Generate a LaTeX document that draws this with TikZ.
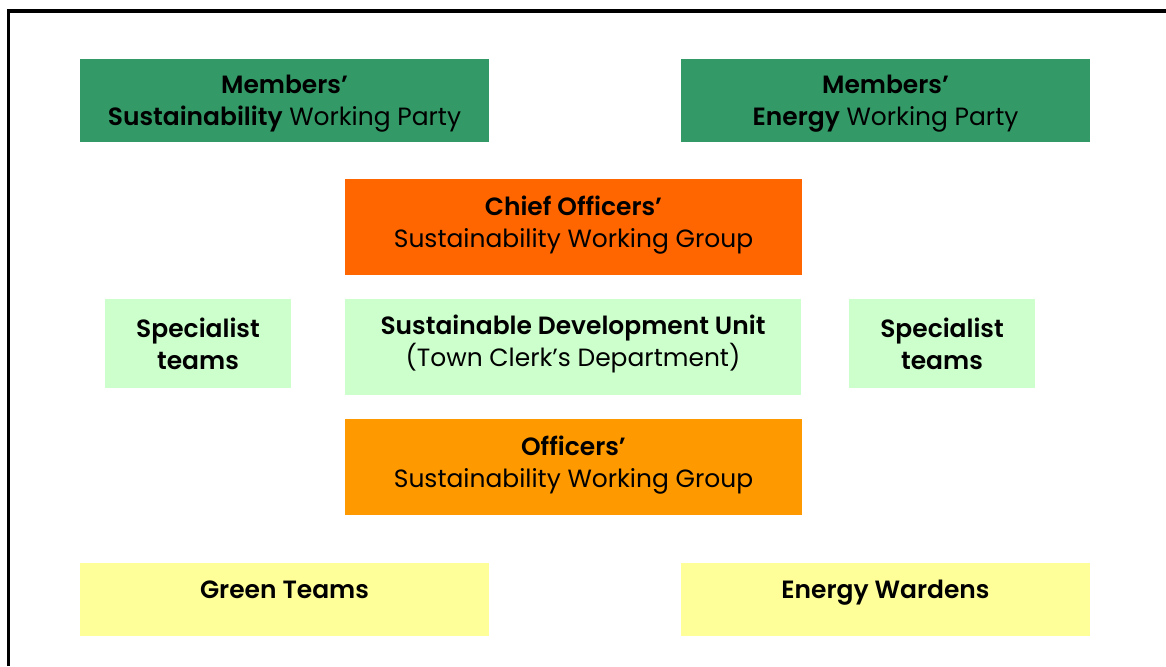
\documentclass[tikz,border=0pt]{standalone}
\usepackage{fontspec}
\setmainfont{Poppins}[BoldFont={Poppins SemiBold}]
\definecolor{membersgreen}{HTML}{339966}
\definecolor{chieforange}{HTML}{FF6600}
\definecolor{unitgreen}{HTML}{CCFFCC}
\definecolor{officersorange}{HTML}{FF9900}
\definecolor{teamyellow}{HTML}{FFFF99}
\begin{document}
\begin{tikzpicture}[x=0.02cm, y=-0.02cm,
    label/.style={align=center, inner sep=0pt, font=\fontsize{14.2}{18.2}\selectfont}]

      \useasboundingbox (0,0) rectangle (1166,666);
      \draw[line width=0.07cm] (8.7,666) -- (8.7,11) -- (1166,11);

      % members
      \fill[membersgreen] (80,59) rectangle (489,142);
      \node[label] (msust) at (284.5,104) {\textbf{Members’}\\\textbf{Sustainability} Working Party};
      \fill[membersgreen] (681,59) rectangle (1090,142);
      \node[label] (menergy) at (885.5,104) {\textbf{Members’}\\\textbf{Energy} Working Party};

      % chief officers
      \fill[chieforange] (345,179) rectangle (802,275);
      \node[label] (chief) at (573.5,225) {\textbf{Chief Officers’}\\Sustainability Working Group};

      % unit and specialists
      \fill[unitgreen] (105,299) rectangle (291,388);
      \node[label] (specl) at (198,344) {\textbf{Specialist}\\\textbf{teams}};
      \fill[unitgreen] (345,299) rectangle (801,395);
      \node[label] (sdu) at (573,344) {\textbf{Sustainable Development Unit}\\(Town Clerk’s Department)};
      \fill[unitgreen] (849,299) rectangle (1035,388);
      \node[label] (specr) at (942,344) {\textbf{Specialist}\\\textbf{teams}};

      % officers
      \fill[officersorange] (345,419) rectangle (802,515);
      \node[label] (officers) at (573.5,465) {\textbf{Officers’}\\Sustainability Working Group};

      % teams
      \fill[teamyellow] (80,563) rectangle (489,636);
      \node[label, anchor=base] (green) at (284.5,598) {\textbf{Green Teams}};
      \fill[teamyellow] (681,563) rectangle (1090,636);
      \node[label, anchor=base] (wardens) at (885.5,598) {\textbf{Energy Wardens}};
    \end{tikzpicture}
\end{document}
